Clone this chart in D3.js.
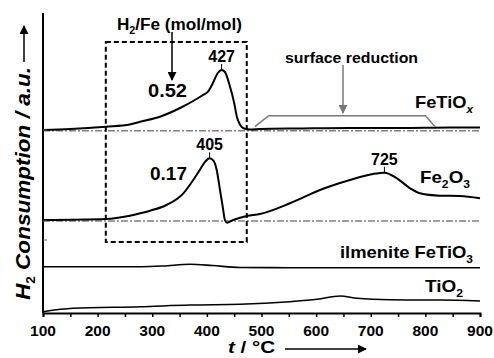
<!DOCTYPE html>
<html>
<head>
<meta charset="utf-8">
<script src="https://cdn.jsdelivr.net/npm/d3@7"></script>
<style>
  body { margin: 0; background: #fff; }
  text { font-family: "Liberation Sans", Arial, sans-serif; font-weight: bold; fill: #000; }
</style>
</head>
<body>
<div id="root"></div>
<script>
// temperatures (°C) and signal (a.u., offset already applied per trace)
const fetioxT = [100, 150, 215, 259, 278, 314, 351, 378, 393, 402, 411, 420, 427, 433, 442, 450, 455, 461, 468, 479, 497, 570, 662, 753, 845, 900];
const fetioxY = [183, 184, 186.3, 188.5, 191.3, 196.3, 205, 213, 218, 221.3, 230, 240, 243, 241, 227, 210, 196, 188, 184.5, 183.5, 184, 184.5, 185, 185, 185.5, 185.5];

const fe2o3T = [100, 215, 259, 278, 296, 326, 357, 375, 387, 397, 405, 412, 418, 424, 429, 433, 437, 448, 473, 497, 552, 607, 662, 704, 725, 748, 772, 790, 827, 863, 900];
const fe2o3Y = [93, 94, 97.3, 99.7, 102.3, 108, 119.7, 133, 143, 151.3, 154.7, 152.3, 143, 123, 106.3, 93, 90.3, 93, 97, 99, 109.7, 123, 133, 139, 140.3, 134.7, 124.7, 119.7, 117.3, 117, 114.7];

const ilmT = [100, 280, 320, 369, 410, 460, 550, 700, 900];
const ilmY = [46.3, 46.3, 47, 48.7, 47.5, 45.5, 45.3, 45.3, 45.3];

const tio2T = [100, 155, 278, 369, 461, 552, 602, 644, 675, 704, 766, 827, 900];
const tio2Y = [1.3, 4.7, 6.3, 8, 8.7, 11.3, 13.7, 17, 14.7, 13.7, 13, 13, 12];

const baselines = [182.3, 92];
const yMarks = [183, 92, 73];
const xTicks = [100, 200, 300, 400, 500, 600, 700, 800, 900];
const peaks = [[427, 243, "427"], [405, 154.7, "405"], [725, 140.3, "725"]];

const width = 494, height = 358;
const svg = d3.select('#root').append('svg')
    .attr('width', width)
    .attr('height', height);

const x = d3.scaleLinear().domain([100, 900]).range([43, 480]);
const y = d3.scaleLinear().domain([0, 300]).range([313, 13]);

const defs = svg.append('defs');
const mk = (id, color) => defs.append('marker')
    .attr('id', id)
    .attr('viewBox', '0 0 10 10')
    .attr('refX', 9).attr('refY', 5)
    .attr('markerWidth', 9).attr('markerHeight', 9)
    .attr('markerUnits', 'userSpaceOnUse')
    .attr('orient', 'auto')
  .append('path')
    .attr('d', 'M0,0 L10,5 L0,10 z')
    .attr('fill', color);
mk('ah', '#000');
mk('ahg', '#777');

// dash-dot baselines
svg.selectAll('.base')
    .data(baselines)
    .enter()
    .append('line')
        .attr('x1', x(100)).attr('x2', x(900))
        .attr('y1', d => y(d)).attr('y2', d => y(d))
        .attr('stroke', '#808080')
        .attr('stroke-width', 1.5)
        .attr('stroke-dasharray', '7,2,2,2');

// dashed box
svg.append('rect')
    .attr('x', x(215)).attr('y', y(271))
    .attr('width', x(473) - x(215))
    .attr('height', y(71) - y(271))
    .attr('fill', 'none')
    .attr('stroke', '#000')
    .attr('stroke-width', 2)
    .attr('stroke-dasharray', '5,3');

const line = d3.line()
    .x(d => x(d[0]))
    .y(d => y(d[1]))
    .curve(d3.curveMonotoneX);

const series = [
    [fetioxT, fetioxY, 2],
    [fe2o3T, fe2o3Y, 2],
    [ilmT, ilmY, 1.6],
    [tio2T, tio2Y, 1.6]
];
svg.selectAll('.trace')
    .data(series)
    .enter()
    .append('path')
        .attr('d', ([t, v]) => line(t.map((d, i) => [d, v[i]])))
        .attr('fill', 'none')
        .attr('stroke', '#000')
        .attr('stroke-width', ([, , w]) => w);

// axes
svg.append('line')
    .attr('x1', x(100)).attr('x2', x(100))
    .attr('y1', y(300)).attr('y2', y(0))
    .attr('stroke', '#000').attr('stroke-width', 2);
svg.selectAll('.ym')
    .data(yMarks)
    .enter()
    .append('line')
        .attr('x1', x(100)).attr('x2', x(100) + 4)
        .attr('y1', d => y(d)).attr('y2', d => y(d))
        .attr('stroke', '#666').attr('stroke-width', 1);

const xAxis = svg.append('g')
    .attr('transform', `translate(0, ${y(0)})`)
    .call(d3.axisBottom(x).tickValues(d3.range(100, 901, 50)).tickSize(4).tickFormat(''));
xAxis.select('.domain').attr('stroke-width', 2);
xAxis.selectAll('.tick line').attr('stroke-width', 1.5);

svg.selectAll('.xlab')
    .data(xTicks)
    .enter()
    .append('text')
        .attr('x', d => x(d))
        .attr('y', 336)
        .attr('text-anchor', 'middle')
        .attr('font-size', 15.5)
        .text(d => d);

// x title
const xt = svg.append('text').attr('x', 228).attr('y', 353).attr('font-size', 16)
    .attr('textLength', 47).attr('lengthAdjust', 'spacingAndGlyphs');
xt.append('tspan').attr('font-style', 'italic').text('t');
xt.append('tspan').text(' / °C');
svg.append('line')
    .attr('x1', 285).attr('x2', 366).attr('y1', 349).attr('y2', 349)
    .attr('stroke', '#000').attr('stroke-width', 1.5)
    .attr('marker-end', 'url(#ah)');

// y title
const yt = svg.append('text')
    .attr('transform', 'translate(30, 300) rotate(-90)')
    .attr('font-size', 20)
    .attr('font-style', 'italic')
    .attr('textLength', 233).attr('lengthAdjust', 'spacingAndGlyphs');
yt.append('tspan').text('H');
yt.append('tspan').attr('font-size', 12).attr('dy', 5).attr('font-style', 'normal').text('2');
yt.append('tspan').attr('dy', -5).text(' Consumption / a.u.');
svg.append('line')
    .attr('x1', 24).attr('x2', 24).attr('y1', 62).attr('y2', 26)
    .attr('stroke', '#000').attr('stroke-width', 1.5)
    .attr('marker-end', 'url(#ah)');

// peak labels with leader ticks
svg.selectAll('.pk')
    .data(peaks)
    .enter()
    .append('text')
        .attr('x', d => x(d[0]))
        .attr('y', d => y(d[1]) - 8)
        .attr('text-anchor', 'middle')
        .attr('font-size', 16)
        .text(d => d[2]);
svg.selectAll('.pkl')
    .data(peaks)
    .enter()
    .append('line')
        .attr('x1', d => x(d[0])).attr('x2', d => x(d[0]))
        .attr('y1', d => y(d[1]) - 6).attr('y2', d => y(d[1]))
        .attr('stroke', '#000').attr('stroke-width', 1);

// H2/Fe annotation
const hf = svg.append('text').attr('x', 117).attr('y', 30).attr('font-size', 16)
    .attr('textLength', 125).attr('lengthAdjust', 'spacingAndGlyphs');
hf.append('tspan').text('H');
hf.append('tspan').attr('font-size', 10).attr('dy', 4).text('2');
hf.append('tspan').attr('dy', -4).text('/Fe (mol/mol)');
svg.append('line')
    .attr('x1', 172).attr('x2', 172).attr('y1', 32).attr('y2', 80)
    .attr('stroke', '#000').attr('stroke-width', 1.5)
    .attr('marker-end', 'url(#ah)');
svg.append('text').attr('x', 148).attr('y', 97).attr('font-size', 18)
    .attr('textLength', 39).attr('lengthAdjust', 'spacingAndGlyphs').text('0.52');
svg.append('text').attr('x', 150).attr('y', 180).attr('font-size', 18)
    .attr('textLength', 37).attr('lengthAdjust', 'spacingAndGlyphs').text('0.17');

// surface reduction
svg.append('text').attr('x', 285).attr('y', 63).attr('font-size', 15)
    .attr('textLength', 133).attr('lengthAdjust', 'spacingAndGlyphs').text('surface reduction');
svg.append('line')
    .attr('x1', 343).attr('x2', 343).attr('y1', 65).attr('y2', 113)
    .attr('stroke', '#777').attr('stroke-width', 1.5)
    .attr('marker-end', 'url(#ahg)');
svg.append('path')
    .attr('d', `M${x(488)},${y(186.3)} L${x(513)},${y(197.3)} L${x(800)},${y(197.3)} L${x(818)},${y(186.3)}`)
    .attr('fill', 'none')
    .attr('stroke', '#777')
    .attr('stroke-width', 1.5);

// series labels
const addLabel = (xp, yp, len, parts) => {
    const t = svg.append('text').attr('x', xp).attr('y', yp).attr('font-size', 17)
        .attr('textLength', len).attr('lengthAdjust', 'spacingAndGlyphs');
    let shifted = false;
    parts.forEach(([s, sub, it]) => {
        const ts = t.append('tspan').text(s);
        if (sub && !shifted) { ts.attr('font-size', 11).attr('dy', 5); shifted = true; }
        else if (sub) { ts.attr('font-size', 11); }
        else if (shifted) { ts.attr('dy', -5); shifted = false; }
        if (it) ts.attr('font-style', 'italic');
    });
};
addLabel(415, 108, 58, [['FeTiO'], ['x', true, true]]);
addLabel(420, 183, 50, [['Fe'], ['2', true], ['O'], ['3', true]]);
addLabel(340, 258, 133, [['ilmenite FeTiO'], ['3', true]]);
addLabel(425, 292, 38, [['TiO'], ['2', true]]);
</script>
</body>
</html>
